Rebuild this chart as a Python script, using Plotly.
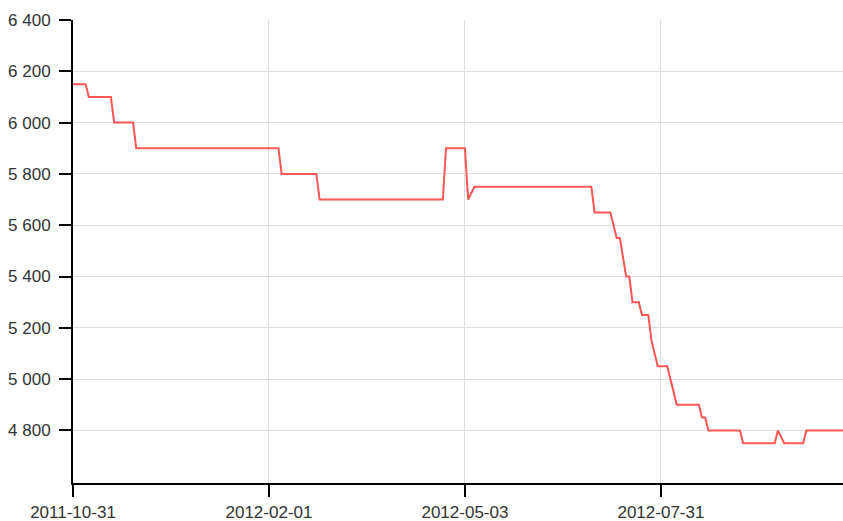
import plotly.graph_objects as go

# Trading-day index of each turning point and the price there
day_index = [0, 4, 5, 12, 13, 19, 20, 65, 66, 77, 78, 117, 118, 124, 125, 127,
             164, 165, 170, 172, 173, 175, 176, 177, 179, 180, 182, 183, 185, 188,
             191, 198, 199, 200, 201, 211, 212, 222, 223, 225, 231, 232, 244]
price = [6150, 6150, 6100, 6100, 6000, 6000, 5900, 5900, 5800, 5800, 5700, 5700,
         5900, 5900, 5700, 5750, 5750, 5650, 5650, 5550, 5550, 5400, 5400, 5300,
         5300, 5250, 5250, 5150, 5050, 5050, 4900, 4900, 4850, 4850, 4800, 4800,
         4750, 4750, 4800, 4750, 4750, 4800, 4800]

tick_index = [0, 62, 124, 186]
tick_labels = ["2011-10-31", "2012-02-01", "2012-05-03", "2012-07-31"]
y_ticks = [4800, 5000, 5200, 5400, 5600, 5800, 6000, 6200, 6400]

fig = go.Figure(go.Scatter(
    x=day_index, y=price, mode="lines",
    line=dict(color="rgb(255,85,85)", width=2),
    hoverinfo="x+y",
))

font = dict(family="Arial, Liberation Sans, sans-serif", size=17, color="#333333")

fig.update_layout(
    width=843, height=521,
    margin=dict(l=73, r=0, t=20, b=38, pad=0),
    paper_bgcolor="white", plot_bgcolor="white",
    showlegend=False,
    separators=". ",
    font=font,
)
fig.update_xaxes(
    range=[0, 243.6], automargin=False,
    tickmode="array", tickvals=tick_index, ticktext=tick_labels,
    showgrid=True, gridcolor="#dddddd", gridwidth=1,
    showline=True, linecolor="black", linewidth=2,
    ticks="outside", ticklen=12, tickwidth=1.5, tickcolor="black",
    ticklabelstandoff=1,
    zeroline=False, tickfont=font,
)
fig.update_yaxes(
    range=[4595, 6400], automargin=False,
    tickmode="array", tickvals=y_ticks, tickformat=",d",
    showgrid=True, gridcolor="#dddddd", gridwidth=1,
    showline=True, linecolor="black", linewidth=2,
    ticks="outside", ticklen=12, tickwidth=1.5, tickcolor="black",
    ticklabelstandoff=5,
    zeroline=False, tickfont=font,
)

fig.write_html(
    "out.html",
    config={"displayModeBar": False},
    post_script="document.body.style.margin='0';document.body.style.overflow='hidden';",
)
